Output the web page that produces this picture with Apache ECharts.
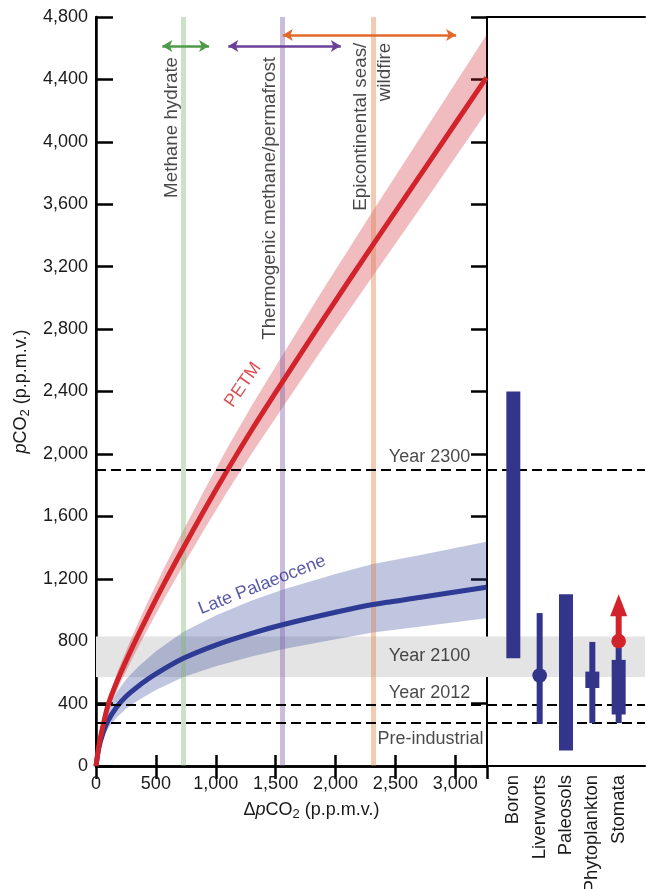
<!DOCTYPE html>
<html>
<head>
<meta charset="utf-8">
<script src="https://cdn.jsdelivr.net/npm/echarts@6/dist/echarts.min.js"></script>
<style>
  html, body { margin: 0; padding: 0; background: #fff; }
  #chart { width: 646px; height: 889px; }
</style>
</head>
<body>
<div id="chart"></div>
<script>
// PETM response curve
const petmX = [0, 20, 50, 100, 184, 309, 423, 576, 738, 900, 1092, 1300, 1557, 1900, 2312, 2800, 3260]
const petmMid = [0, 110, 230, 390, 558, 770, 950, 1180, 1410, 1634, 1889, 2153, 2461, 2866, 3340, 3891, 4411]
const petmHigh = [0, 123, 253, 429, 614, 843, 1036, 1280, 1523, 1761, 2031, 2308, 2633, 3058, 3557, 4136, 4684]
const petmLow = [0, 97, 207, 351, 502, 697, 865, 1080, 1297, 1511, 1753, 2002, 2296, 2685, 3140, 3677, 4190]

// Late Palaeocene response curve
const lateX = [0, 25, 60, 100, 170, 250, 350, 500, 730, 1000, 1300, 1557, 2000, 2312, 2700, 3260]
const lateMid = [0, 120, 215, 290, 375, 445, 510, 590, 690, 775, 850, 905, 985, 1035, 1080, 1145]
const lateHigh = [0, 150, 270, 360, 470, 555, 635, 735, 861, 965, 1060, 1130, 1230, 1295, 1350, 1437]
const lateLow = [0, 100, 178, 240, 310, 367, 420, 487, 570, 640, 702, 748, 813, 855, 892, 947]

// carbon sources: vertical bands and their ranges (arrows)
const sourceNames = ['Methane hydrate', 'Thermogenic methane/permafrost', 'Epicontinental seas/\nwildfire']
const sourceValues = [730, 1557, 2312]
const sourceRangeFrom = [554, 1105, 1560]
const sourceRangeTo = [944, 2044, 3007]
const sourceRangeY = [4614, 4614, 4685]
const sourceLabelX = [632, 1454, 2313]
const sourceLabelTop = [4544, 4544, 4635]

// reference levels
const levelNames = ['Year 2300', 'Year 2100', 'Year 2012', 'Pre-industrial']
const levelLines = [1900, 395, 280]
const band2100 = [570, 830]
const levelLabelX = [3125, 3125, 3125, 3236]
const levelLabelY = [1983, 705, 468, 173]

// proxy estimates (right panel)
const proxyNames = ['Boron', 'Liverworts', 'Paleosols', 'Phytoplankton', 'Stomata']
const proxyThinLow = [null, 270, null, 275, 275]
const proxyThinHigh = [null, 980, null, 795, 800]
const proxyBoxLow = [690, null, 100, 500, 330]
const proxyBoxHigh = [2400, null, 1100, 605, 680]
const proxyPoint = [null, 580, null, null, 800]
const stomataArrowTip = 1100

const INK = '#1a1a1a'
const FONT = '"Liberation Sans", Arial, Helvetica, sans-serif'
const RED = '#d2232a'
const BLUE = '#2d3b95'
const PROXY = '#33358b'
const sourceBandColors = ['rgba(120,180,110,0.38)', 'rgba(125,92,167,0.4)', 'rgba(222,125,70,0.4)']
const sourceArrowColors = ['#4f9a4a', '#6b3f98', '#e0692b']

const chart = echarts.init(document.getElementById('chart'))

const bandSeries = (xs, lo, hi, color, z) => ({
  type: 'custom',
  xAxisIndex: 0,
  yAxisIndex: 0,
  z,
  silent: true,
  data: [[0, 0]],
  renderItem: (params, api) => {
    const top = xs.map((x, i) => api.coord([x, hi[i]]))
    const bottom = xs.map((x, i) => api.coord([x, lo[i]])).reverse()
    return { type: 'polygon', shape: { points: top.concat(bottom) }, style: { fill: color } }
  },
})

const curveSeries = (xs, ys, color, z) => ({
  type: 'line',
  xAxisIndex: 0,
  yAxisIndex: 0,
  z,
  silent: true,
  smooth: 0.25,
  showSymbol: false,
  lineStyle: { color, width: 5 },
  data: xs.map((x, i) => [x, ys[i]]),
})

const dashed = { color: '#000', width: 2.2, type: [10, 5] }

const levelMarks = (xi, yi) => ({
  type: 'line',
  xAxisIndex: xi,
  yAxisIndex: yi,
  data: [],
  silent: true,
  z: 1,
  markArea: {
    silent: true,
    itemStyle: { color: '#e4e4e4' },
    data: [[{ yAxis: band2100[0] }, { yAxis: band2100[1] }]],
  },
  markLine: {
    silent: true,
    symbol: 'none',
    label: { show: false },
    lineStyle: dashed,
    z: 7,
    data: levelLines.map(v => ({ yAxis: v })),
  },
})

const textLabel = { fontFamily: FONT, fontSize: 18, color: INK }

const option = {
  animation: false,
  textStyle: { fontFamily: FONT },
  grid: [
    { left: 96, top: 17, width: 391, height: 749, outerBoundsMode: 'none' },
    { left: 487, top: 17, width: 158, height: 749, outerBoundsMode: 'none' },
  ],
  xAxis: [
    {
      gridIndex: 0, type: 'value', min: 0, max: 3265, interval: 500, position: 'bottom',
      axisLine: { lineStyle: { color: '#000', width: 2.5 } },
      axisTick: { inside: true, length: 11, lineStyle: { color: '#000', width: 2.5 } },
      axisLabel: { fontSize: 18, color: INK, margin: 9, showMaxLabel: false,
        formatter: v => (v % 500 === 0 ? v.toLocaleString('en-US') : '') },
      splitLine: { show: false },
      name: '\u0394{i|p}CO{sub|2} (p.p.m.v.)',
      nameLocation: 'middle',
      nameGap: 33,
      nameTextStyle: {
        fontSize: 18, color: INK, padding: [0, 0, 0, 40],
        rich: {
          i: { fontSize: 18, fontStyle: 'italic', color: INK, lineHeight: 22 },
          sub: { fontSize: 13, color: INK, verticalAlign: 'bottom', lineHeight: 13 },
        },
      },
    },
    {
      gridIndex: 0, type: 'value', min: 0, max: 3265, interval: 500, position: 'top',
      axisLine: { lineStyle: { color: '#000', width: 2.5 } },
      axisTick: { inside: true, length: 13, lineStyle: { color: '#000', width: 2.5 } },
      axisLabel: { show: false },
      splitLine: { show: false },
    },
    {
      gridIndex: 1, type: 'value', min: 0, max: 6, interval: 1, position: 'bottom',
      axisLine: { lineStyle: { color: '#000', width: 2 } },
      axisTick: { show: false },
      axisLabel: { rotate: 90, interval: 0, hideOverlap: false, fontSize: 18.5, color: INK, margin: 9,
        formatter: v => proxyNames[v - 1] || '' },
      splitLine: { show: false },
    },
    {
      gridIndex: 1, type: 'value', min: 0, max: 6, position: 'top',
      axisLine: { lineStyle: { color: '#000', width: 2 } },
      axisTick: { show: false },
      axisLabel: { show: false },
      splitLine: { show: false },
    },
  ],
  yAxis: [
    {
      gridIndex: 0, type: 'value', min: 0, max: 4800, interval: 400, position: 'left',
      axisLine: { show: true, lineStyle: { color: '#000', width: 2.5 } },
      axisTick: { show: true, inside: true, length: 17, lineStyle: { color: '#000', width: 2.5 } },
      axisLabel: { fontSize: 18, color: INK, margin: 8, formatter: v => v.toLocaleString('en-US') },
      splitLine: { show: false },
      name: '{i|p}CO{sub|2} (p.p.m.v.)',
      nameLocation: 'middle',
      nameGap: 62,
      nameTextStyle: {
        fontSize: 18, color: INK,
        rich: {
          i: { fontSize: 18, fontStyle: 'italic', color: INK, lineHeight: 22 },
          sub: { fontSize: 13, color: INK, verticalAlign: 'bottom', lineHeight: 13 },
        },
      },
    },
    {
      gridIndex: 0, type: 'value', min: 0, max: 4800, position: 'right',
      axisLine: { show: true, lineStyle: { color: '#000', width: 2 } },
      axisTick: { show: false },
      axisLabel: { show: false },
      splitLine: { show: false },
    },
    {
      gridIndex: 1, type: 'value', min: 0, max: 4800, interval: 400, position: 'right',
      axisLine: { show: true, lineStyle: { color: '#000', width: 2 } },
      axisTick: { show: true, inside: true, length: 16, lineStyle: { color: '#000', width: 2.5 } },
      axisLabel: { show: false },
      splitLine: { show: false },
    },
  ],
  series: [
    levelMarks(0, 0),
    levelMarks(2, 2),
    bandSeries(lateX, lateLow, lateHigh, 'rgba(45,65,152,0.3)', 2),
    bandSeries(petmX, petmLow, petmHigh, 'rgba(205,32,45,0.3)', 3),
    curveSeries(lateX, lateMid, BLUE, 5),
    curveSeries(petmX, petmMid, RED, 6),
    {
      // source bands and ranges
      type: 'line', xAxisIndex: 0, yAxisIndex: 0, data: [], silent: true, z: 6,
      markLine: {
        silent: true,
        symbol: 'none',
        label: { show: false },
        data: sourceValues.map((v, i) => ({ xAxis: v, lineStyle: { color: sourceBandColors[i], width: 5, type: 'solid' } })),
      },
    },
    {
      type: 'line', xAxisIndex: 0, yAxisIndex: 0, data: [], silent: true, z: 8,
      markLine: {
        silent: true,
        symbol: ['arrow', 'arrow'],
        symbolSize: [9, 10],
        label: { show: false },
        data: sourceRangeFrom.map((v, i) => [
          { coord: [v, sourceRangeY[i]], lineStyle: { color: sourceArrowColors[i], width: 2.5, type: 'solid' } },
          { coord: [sourceRangeTo[i], sourceRangeY[i]] },
        ]),
      },
    },
    {
      type: 'scatter', xAxisIndex: 0, yAxisIndex: 0, z: 9, silent: true,
      symbolSize: 1, itemStyle: { color: 'rgba(0,0,0,0)' },
      label: { show: true, position: 'inside', formatter: '{b}', rotate: 90, align: 'right', verticalAlign: 'middle', lineHeight: 24, ...textLabel, fontSize: 18.8 },
      data: sourceNames.map((n, i) => ({ name: n, value: [sourceLabelX[i], sourceLabelTop[i]] })),
    },
    {
      type: 'scatter', xAxisIndex: 0, yAxisIndex: 0, z: 9, silent: true,
      symbolSize: 1, itemStyle: { color: 'rgba(0,0,0,0)' },
      label: { show: true, position: 'inside', formatter: '{b}', align: 'right', verticalAlign: 'middle', ...textLabel },
      data: levelNames.map((n, i) => ({ name: n, value: [levelLabelX[i], levelLabelY[i]] })),
    },
    {
      type: 'scatter', xAxisIndex: 0, yAxisIndex: 0, z: 9, silent: true,
      symbolSize: 1, itemStyle: { color: 'rgba(0,0,0,0)' },
      label: { show: true, position: 'inside', formatter: '{b}', align: 'center', verticalAlign: 'middle', ...textLabel },
      data: [
        { name: 'PETM', value: [1228, 2442], label: { rotate: 55, color: RED } },
        { name: 'Late Palaeocene', value: [1387, 1160], label: { rotate: 21.5, color: '#2e3192' } },
      ],
    },
    {
      // proxy ranges
      type: 'custom', xAxisIndex: 2, yAxisIndex: 2, z: 9, silent: true,
      data: proxyNames.map((n, i) => [i + 1, 0]),
      renderItem: (params, api) => {
        const i = params.dataIndex
        const x = api.coord([i + 1, 0])[0]
        const py = v => api.coord([0, v])[1]
        const children = []
        if (proxyThinLow[i] != null) {
          children.push({ type: 'rect', shape: { x: x - 3, y: py(proxyThinHigh[i]), width: 6, height: py(proxyThinLow[i]) - py(proxyThinHigh[i]) }, style: { fill: PROXY } })
        }
        if (proxyBoxLow[i] != null) {
          children.push({ type: 'rect', shape: { x: x - 7, y: py(proxyBoxHigh[i]), width: 14, height: py(proxyBoxLow[i]) - py(proxyBoxHigh[i]) }, style: { fill: PROXY } })
        }
        if (proxyPoint[i] != null) {
          const isStomata = proxyNames[i] === 'Stomata'
          if (isStomata) {
            const tip = py(stomataArrowTip)
            const base = tip + 22
            children.push({ type: 'rect', shape: { x: x - 3, y: base - 1, width: 6, height: py(proxyPoint[i]) - base + 1 }, style: { fill: RED } })
            children.push({ type: 'polygon', shape: { points: [[x - 8.5, base], [x + 8.5, base], [x, tip]] }, style: { fill: RED } })
          }
          children.push({ type: 'circle', shape: { cx: x, cy: py(proxyPoint[i]), r: 7.3 }, style: { fill: isStomata ? RED : PROXY } })
        }
        return { type: 'group', children }
      },
    },
  ],
}

chart.setOption(option)
</script>
</body>
</html>
